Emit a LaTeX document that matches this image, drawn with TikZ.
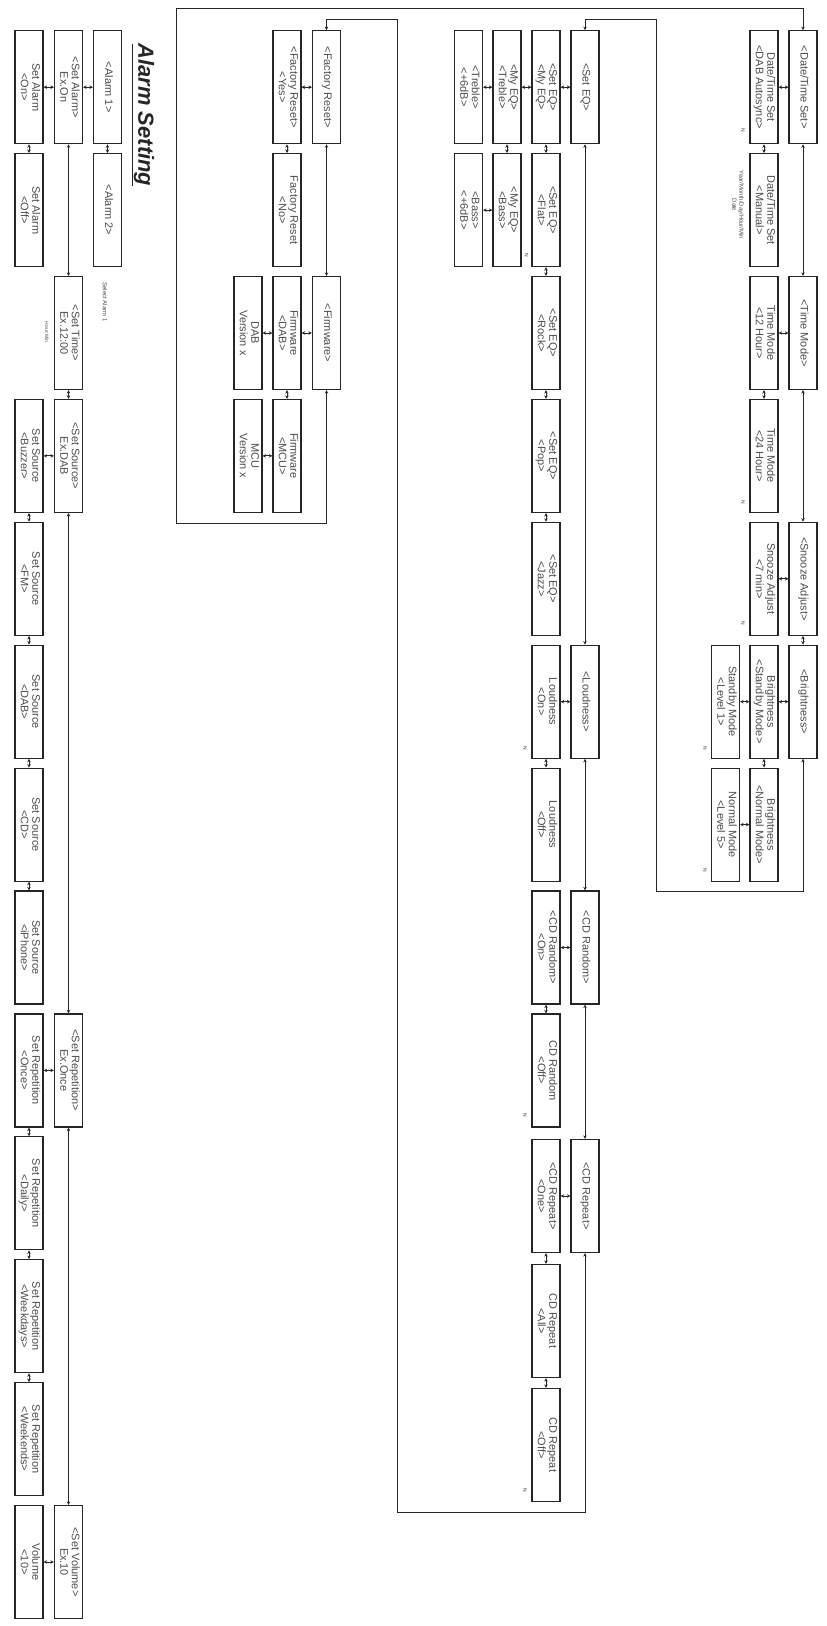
\documentclass[tikz,border=0pt]{standalone}
\usepackage{fontspec}
\setmainfont{Liberation Sans}
\usetikzlibrary{arrows.meta}
\newcommand\bt[2]{\rotatebox{-90}{\begin{tabular}{@{}c@{}}#1\\#2\end{tabular}}}
\begin{document}
\begin{tikzpicture}[x=1bp,y=-1bp,
  mbox/.style={draw=black!85, line width=1.2bp, minimum width=28bp, minimum height=113bp, inner sep=0pt, text=black!70, font=\fontsize{11}{11.5}\selectfont},
  conn/.style={draw=black!85, line width=0.9bp, >={Stealth[length=3.5bp,width=3.5bp]}, <->},
  note/.style={text=black!70, inner sep=0pt, rotate=-90},
  endmark/.style={text=black!80, inner sep=0pt, rotate=-90, font=\fontsize{5}{5}\selectfont}
]
\useasboundingbox (0,0) rectangle (826,1626);
% ---------------- Alarm setting ----------------
\node[note, font=\bfseries\itshape\fontsize{22}{24}\selectfont, text=black!85] (title) at (143,115) {\underline{Alarm Setting}};
\node[mbox] (C0) at (107.5,87.2) {\bt{<Alarm 1>}{}};
\node[mbox] (C1) at (107.5,210.1) {\bt{<Alarm 2>}{}};
\node[note, font=\fontsize{6}{7}\selectfont] (selnote) at (105,302) {Select Alarm 1};
\node[mbox] (B0) at (68.5,87.2) {\bt{<Set Alarm>}{Ex.On}};
\node[mbox] (A0) at (29,87.2) {\bt{Set Alarm}{<On>}};
\node[mbox] (A1) at (29,210.1) {\bt{Set Alarm}{<Off>}};
\node[mbox] (B2) at (68.5,333.0) {\bt{<Set Time>}{Ex.12:00}};
\node[note, font=\fontsize{5}{6}\selectfont] (hmnote) at (47,332) {Hour:Min};
\node[mbox] (B3) at (68.5,455.9) {\bt{<Set Source>}{Ex.DAB}};
\node[mbox] (A3) at (29,455.9) {\bt{Set Source}{<Buzzer>}};
\node[mbox] (A4) at (29,578.8) {\bt{Set Source}{<FM>}};
\node[mbox] (A5) at (29,701.7) {\bt{Set Source}{<DAB>}};
\node[mbox] (A6) at (29,824.6) {\bt{Set Source}{<CD>}};
\node[mbox] (A7) at (29,947.5) {\bt{Set Source}{<iPhone>}};
\node[mbox] (B8) at (68.5,1070.4) {\bt{<Set Repetition>}{Ex.Once}};
\node[mbox] (A8) at (29,1070.4) {\bt{Set Repetition}{<Once>}};
\node[mbox] (A9) at (29,1193.3) {\bt{Set Repetition}{<Daily>}};
\node[mbox] (A10) at (29,1316.2) {\bt{Set Repetition}{<Weekdays>}};
\node[mbox] (A11) at (29,1439.1) {\bt{Set Repetition}{<Weekends>}};
\node[mbox] (B12) at (68.5,1562.0) {\bt{<Set Volume>}{Ex.10}};
\node[mbox] (A12) at (29,1562.0) {\bt{Volume}{<10>}};
% ---------------- Factory / firmware ----------------
\node[mbox] (F10) at (326.5,87.2) {\bt{<Factory Reset>}{}};
\node[mbox] (F20) at (287,87.2) {\bt{<Factory Reset>}{<Yes>}};
\node[mbox] (F21) at (287,210.1) {\bt{Factory Reset}{<No>}};
\node[mbox] (F12) at (326.5,333.0) {\bt{<Firmware>}{}};
\node[mbox] (F22) at (287,333.0) {\bt{Firmware}{<DAB>}};
\node[mbox] (F32) at (248,333.0) {\bt{DAB}{Version x}};
\node[mbox] (F23) at (287,455.9) {\bt{Firmware}{<MCU>}};
\node[mbox] (F33) at (248,455.9) {\bt{MCU}{Version x}};
% ---------------- EQ / CD ----------------
\node[mbox] (E10) at (585,87.2) {\bt{<Set EQ>}{}};
\node[mbox] (E20) at (546,87.2) {\bt{<Set EQ>}{<My EQ>}};
\node[mbox] (E30) at (507,87.2) {\bt{<My EQ>}{<Treble>}};
\node[mbox] (E40) at (468.5,87.2) {\bt{<Treble>}{<+6dB>}};
\node[mbox] (E21) at (546,210.1) {\bt{<Set EQ>}{<Flat>}};
\node[mbox] (E31) at (507,210.1) {\bt{<My EQ>}{<Bass>}};
\node[mbox] (E41) at (468.5,210.1) {\bt{<Bass>}{<+6dB>}};
\node[mbox] (E22) at (546,333.0) {\bt{<Set EQ>}{<Rock>}};
\node[mbox] (E23) at (546,455.9) {\bt{<Set EQ>}{<Pop>}};
\node[mbox] (E24) at (546,578.8) {\bt{<Set EQ>}{<Jazz>}};
\node[mbox] (E15) at (585,701.7) {\bt{<Loudness>}{}};
\node[mbox] (E25) at (546,701.7) {\bt{Loudness}{<On>}};
\node[mbox] (E26) at (546,824.6) {\bt{Loudness}{<Off>}};
\node[mbox] (E17) at (585,947.5) {\bt{<CD Random>}{}};
\node[mbox] (E27) at (546,947.5) {\bt{<CD Random>}{<On>}};
\node[mbox] (E28) at (546,1070.4) {\bt{CD Random}{<Off>}};
\node[mbox] (E19) at (585,1196) {\bt{<CD Repeat>}{}};
\node[mbox] (E29) at (546,1196) {\bt{<CD Repeat>}{<One>}};
\node[mbox] (E210) at (546,1321) {\bt{CD Repeat}{<All>}};
\node[mbox] (E211) at (546,1445) {\bt{CD Repeat}{<Off>}};
% ---------------- Date / time ----------------
\node[mbox] (R10) at (803,87.2) {\bt{<Date/Time Set>}{}};
\node[mbox] (R20) at (764,87.2) {\bt{Date/Time Set}{<DAB Autosync>}};
\node[mbox] (R21) at (764,210.1) {\bt{Date/Time Set}{<Manual>}};
\node[note, font=\fontsize{6}{7}\selectfont, align=center] (dtnote) at (738,205) {Year/Month/Day/Hour/Min\\Date};
\node[mbox] (R12) at (803,333.0) {\bt{<Time Mode>}{}};
\node[mbox] (R22) at (764,333.0) {\bt{Time Mode}{<12 Hour>}};
\node[mbox] (R23) at (764,455.9) {\bt{Time Mode}{<24 Hour>}};
\node[mbox] (R14) at (803,578.8) {\bt{<Snooze Adjust>}{}};
\node[mbox] (R24) at (764,578.8) {\bt{Snooze Adjust}{<7 min>}};
\node[mbox] (R15) at (803,701.7) {\bt{<Brightness>}{}};
\node[mbox] (R25) at (764,701.7) {\bt{Brightness}{<Standby Mode>}};
\node[mbox] (R35) at (725.5,701.7) {\bt{Standby Mode}{<Level 1>}};
\node[mbox] (R26) at (764,824.6) {\bt{Brightness}{<Normal Mode>}};
\node[mbox] (R36) at (725.5,824.6) {\bt{Normal Mode}{<Level 5>}};
% ---------------- small end marks ----------------
\node[endmark] (m1) at (526.5,255) {N};
\node[endmark] (m2) at (525,748) {N};
\node[endmark] (m3) at (525,1115) {N};
\node[endmark] (m4) at (525,1490) {N};
\node[endmark] (m5) at (743,130) {N};
\node[endmark] (m6) at (743,502) {N};
\node[endmark] (m7) at (743,623) {N};
\node[endmark] (m8) at (705,748) {N};
\node[endmark] (m9) at (705,870) {N};
% ---------------- loop corner coordinates ----------------
\coordinate (La) at (326.5,523.3);
\coordinate (Lb) at (176.7,523.3);
\coordinate (Lc) at (176.7,8.3);
\coordinate (Ld) at (803,8.3);
\coordinate (Ma) at (803,891.7);
\coordinate (Mb) at (656,891.7);
\coordinate (Mc) at (656,19.3);
\coordinate (Md) at (585,19.3);
\coordinate (Na) at (585,1512);
\coordinate (Nb) at (397.3,1512);
\coordinate (Nc) at (397.3,19.3);
\coordinate (Nd) at (326.5,19.3);
% ---------------- connectors ----------------
\draw[conn] (F12.south) -- (La) -- (Lb) -- (Lc) -- (Ld) -- (R10.north);
\draw[conn] (R15.south) -- (Ma) -- (Mb) -- (Mc) -- (Md) -- (E10.north);
\draw[conn] (E19.south) -- (Na) -- (Nb) -- (Nc) -- (Nd) -- (F10.north);
% vertical main chains
\draw[conn] (B0.south) -- (B2.north);
\draw[conn] (B2.south) -- (B3.north);
\draw[conn] (B3.south) -- (B8.north);
\draw[conn] (B8.south) -- (B12.north);
\draw[conn] (F10.south) -- (F12.north);
\draw[conn] (E10.south) -- (E15.north);
\draw[conn] (E15.south) -- (E17.north);
\draw[conn] (E17.south) -- (E19.north);
\draw[conn] (R10.south) -- (R12.north);
\draw[conn] (R12.south) -- (R14.north);
\draw[conn] (R14.south) -- (R15.north);
% vertical short
\draw[conn] (A0.south) -- (A1.north);
\draw[conn] (C0.south) -- (C1.north);
\draw[conn] (A3.south) -- (A4.north);
\draw[conn] (A4.south) -- (A5.north);
\draw[conn] (A5.south) -- (A6.north);
\draw[conn] (A6.south) -- (A7.north);
\draw[conn] (A8.south) -- (A9.north);
\draw[conn] (A9.south) -- (A10.north);
\draw[conn] (A10.south) -- (A11.north);
\draw[conn] (F20.south) -- (F21.north);
\draw[conn] (F22.south) -- (F23.north);
\draw[conn] (E20.south) -- (E21.north);
\draw[conn] (E21.south) -- (E22.north);
\draw[conn] (E22.south) -- (E23.north);
\draw[conn] (E23.south) -- (E24.north);
\draw[conn] (E30.south) -- (E31.north);
\draw[conn] (E25.south) -- (E26.north);
\draw[conn] (E27.south) -- (E28.north);
\draw[conn] (E29.south) -- (E210.north);
\draw[conn] (E210.south) -- (E211.north);
\draw[conn] (R20.south) -- (R21.north);
\draw[conn] (R22.south) -- (R23.north);
\draw[conn] (R25.south) -- (R26.north);
% horizontal
\draw[conn] (B0.west) -- (A0.east);
\draw[conn] (B0.east) -- (C0.west);
\draw[conn] (B3.west) -- (A3.east);
\draw[conn] (B8.west) -- (A8.east);
\draw[conn] (B12.west) -- (A12.east);
\draw[conn] (F10.west) -- (F20.east);
\draw[conn] (F12.west) -- (F22.east);
\draw[conn] (F22.west) -- (F32.east);
\draw[conn] (F23.west) -- (F33.east);
\draw[conn] (E10.west) -- (E20.east);
\draw[conn] (E20.west) -- (E30.east);
\draw[conn] (E30.west) -- (E40.east);
\draw[conn] (E31.west) -- (E41.east);
\draw[conn] (E15.west) -- (E25.east);
\draw[conn] (E17.west) -- (E27.east);
\draw[conn] (E19.west) -- (E29.east);
\draw[conn] (R10.west) -- (R20.east);
\draw[conn] (R12.west) -- (R22.east);
\draw[conn] (R14.west) -- (R24.east);
\draw[conn] (R15.west) -- (R25.east);
\draw[conn] (R25.west) -- (R35.east);
\draw[conn] (R26.west) -- (R36.east);
\end{tikzpicture}
\end{document}
